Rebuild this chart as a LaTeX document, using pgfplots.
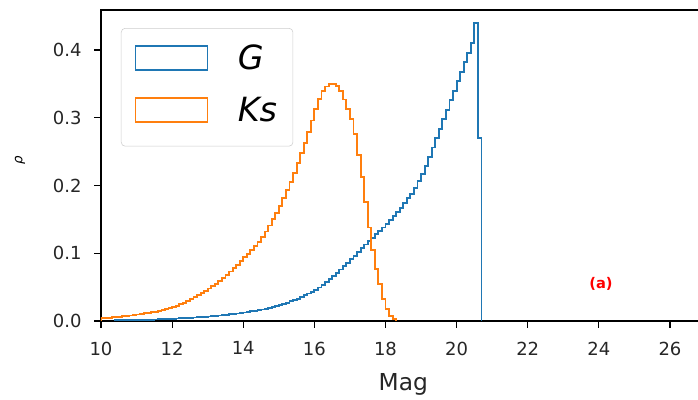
\documentclass[border=0pt]{standalone}
\usepackage{fontspec}
\setmainfont{DejaVu Sans}
\usepackage{pgfplots}
\pgfplotsset{compat=1.18}
\definecolor{tabblue}{HTML}{1F77B4}
\definecolor{taborange}{HTML}{FF7F0E}
\begin{document}
\begin{tikzpicture}
\begin{axis}[
  at={(0,0)}, anchor=south west,
  scale only axis, width=453.4pt, height=233.25pt,
  xmin=10, xmax=27, ymin=0, ymax=0.459,
  xtick={10,12,14,16,18,20,22,24,26},
  ytick={0,0.1,0.2,0.3,0.4},
  yticklabel style={/pgf/number format/.cd, fixed, fixed zerofill, precision=1, /tikz/.cd, xshift=-6pt},
  xticklabel style={yshift=-7pt},
  /pgf/number format/assume math mode=true,
  tick label style={font=\fontsize{13.5}{16}\selectfont, text=black!85},
  tick align=outside, major tick length=5pt,
  tick style={black, line width=0.9pt},
  xtick pos=bottom, ytick pos=left,
  axis line style={line width=1.1pt},
  xlabel={Mag}, xlabel style={at={(axis description cs:0.5,0)}, anchor=base, yshift=-51.75pt, font=\fontsize{17.5}{20}\selectfont, text=black!85},
  ylabel={\textit{ρ}}, ylabel style={at={(axis description cs:-0.134,0.517)}, anchor=center, font=\fontsize{10}{12}\selectfont},
  legend style={at={(0.033,0.942)}, anchor=north west, draw=black!20,
    rounded corners=3pt, fill=white, fill opacity=0.8, text opacity=1,
    font=\fontsize{25}{30}\selectfont, legend cell align=left,
    row sep=15.5pt, inner xsep=10pt, inner ysep=10pt,
    /tikz/every odd column/.append style={column sep=20pt}},
]
\addplot[tabblue, line width=1.4pt, const plot,
  legend image code/.code={\draw[tabblue, sharp corners, line width=1.4pt] (0pt,-9pt) rectangle (54pt,9pt);}] coordinates {
(10.4,0) (10.4,0.001) (10.5,0.001) (10.6,0.0012) (10.7,0.0013) (10.8,0.0014) (10.9,0.0015)
(11.0,0.0016) (11.1,0.0017) (11.2,0.0018) (11.3,0.0019) (11.4,0.002) (11.5,0.0022) (11.6,0.0024) (11.7,0.0026) (11.8,0.0028) (11.9,0.003)
(12.0,0.0033) (12.1,0.0036) (12.2,0.0039) (12.3,0.0042) (12.4,0.0045) (12.5,0.0048) (12.6,0.0051) (12.7,0.0055) (12.8,0.0059) (12.9,0.0063)
(13.0,0.0067) (13.1,0.0071) (13.2,0.0076) (13.3,0.0081) (13.4,0.0086) (13.5,0.0092) (13.6,0.0098) (13.7,0.0104) (13.8,0.0111) (13.9,0.0118)
(14.0,0.0125) (14.1,0.0133) (14.2,0.0142) (14.3,0.0151) (14.4,0.016) (14.5,0.017) (14.6,0.0182) (14.7,0.0195) (14.8,0.021) (14.9,0.0225)
(15.0,0.024) (15.1,0.0255) (15.2,0.0272) (15.3,0.029) (15.4,0.031) (15.5,0.033) (15.6,0.0355) (15.7,0.038) (15.8,0.0405) (15.9,0.0432)
(16.0,0.046) (16.1,0.0495) (16.2,0.053) (16.3,0.057) (16.4,0.0615) (16.5,0.066) (16.6,0.071) (16.7,0.076) (16.8,0.081) (16.9,0.086)
(17.0,0.091) (17.1,0.0965) (17.2,0.102) (17.3,0.1075) (17.4,0.113) (17.5,0.118) (17.6,0.123) (17.7,0.128) (17.8,0.133) (17.9,0.138)
(18.0,0.143) (18.1,0.149) (18.2,0.155) (18.3,0.161) (18.4,0.167) (18.5,0.174) (18.6,0.181) (18.7,0.188) (18.8,0.196) (18.9,0.206)
(19.0,0.217) (19.1,0.229) (19.2,0.242) (19.3,0.256) (19.4,0.27) (19.5,0.284) (19.6,0.298) (19.7,0.312) (19.8,0.326) (19.9,0.34)
(20.0,0.354) (20.1,0.368) (20.2,0.382) (20.3,0.396) (20.4,0.41) (20.5,0.44) (20.6,0.27) (20.7,0)
};
\addlegendentry{\textit{G}}
\addplot[taborange, line width=1.4pt, const plot,
  legend image code/.code={\draw[taborange, sharp corners, line width=1.4pt] (0pt,-9pt) rectangle (54pt,9pt); \path[draw=none] (0pt,-17pt) rectangle (1pt,-16pt);}] coordinates {
(10.0,0) (10.0,0.004) (10.1,0.0045) (10.2,0.005) (10.3,0.0055) (10.4,0.006) (10.5,0.0065) (10.6,0.007) (10.7,0.0076) (10.8,0.0082) (10.9,0.0089)
(11.0,0.0096) (11.1,0.0104) (11.2,0.0112) (11.3,0.012) (11.4,0.0129) (11.5,0.0139) (11.6,0.015) (11.7,0.0162) (11.8,0.0175) (11.9,0.0188)
(12.0,0.021) (12.1,0.0225) (12.2,0.0245) (12.3,0.027) (12.4,0.0295) (12.5,0.032) (12.6,0.035) (12.7,0.038) (12.8,0.041) (12.9,0.0445)
(13.0,0.048) (13.1,0.0515) (13.2,0.055) (13.3,0.059) (13.4,0.0635) (13.5,0.068) (13.6,0.073) (13.7,0.078) (13.8,0.083) (13.9,0.0885)
(14.0,0.094) (14.1,0.0995) (14.2,0.105) (14.3,0.111) (14.4,0.117) (14.5,0.124) (14.6,0.132) (14.7,0.141) (14.8,0.150) (14.9,0.160)
(15.0,0.170) (15.1,0.181) (15.2,0.193) (15.3,0.205) (15.4,0.218) (15.5,0.233) (15.6,0.248) (15.7,0.263) (15.8,0.279) (15.9,0.296)
(16.0,0.313) (16.1,0.328) (16.2,0.339) (16.3,0.346) (16.4,0.35) (16.5,0.35) (16.6,0.347) (16.7,0.339) (16.8,0.327) (16.9,0.313)
(17.0,0.298) (17.1,0.276) (17.2,0.245) (17.3,0.212) (17.4,0.176) (17.5,0.138) (17.6,0.105) (17.7,0.077) (17.8,0.054) (17.9,0.033)
(18.0,0.018) (18.1,0.008) (18.2,0.003) (18.3,0)
};
\addlegendentry{\textit{Ks}}
\node[text=red, font=\bfseries\fontsize{11}{13}\selectfont] at (axis cs:24.06,0.055) {(a)};
\end{axis}
\pgfresetboundingbox
\path (-75.75pt,-58.5pt) rectangle (447.75pt,240.75pt);
\end{tikzpicture}
\end{document}
